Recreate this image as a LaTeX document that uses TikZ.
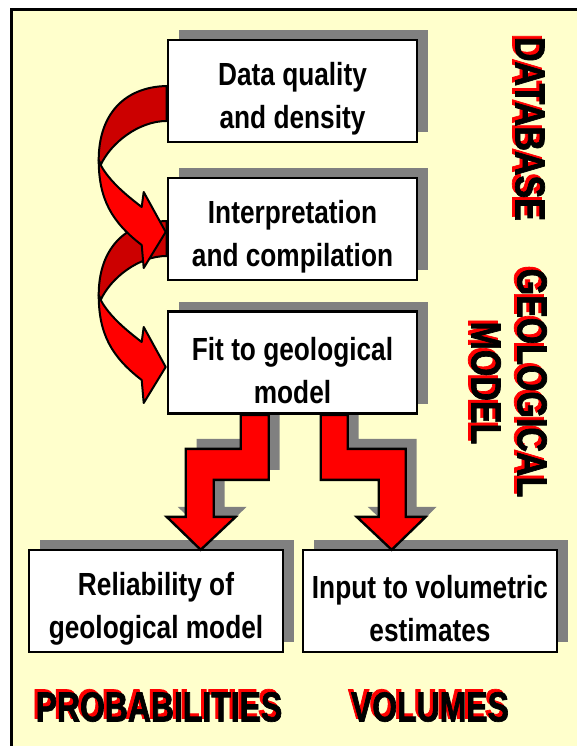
\documentclass[tikz,border=0pt]{standalone}
\usepackage{fontspec}
\setmainfont{Liberation Sans}
\newfontfamily\boxfont{Liberation Sans}[FakeStretch=0.82]
\newfontfamily\tagfont{Liberation Sans}[FakeStretch=0.76,FakeBold=1.6]
\newfontfamily\sidefont{Liberation Sans}[FakeStretch=0.81,FakeBold=1.6]
\usetikzlibrary{shadows,calc}

\definecolor{paper}{RGB}{255,255,204}
\definecolor{shade}{RGB}{128,128,128}
\definecolor{brightred}{RGB}{255,0,0}
\definecolor{deepred}{RGB}{204,0,0}

\pgfdeclarelayer{bg}
\pgfdeclarelayer{back}
\pgfdeclarelayer{front}
\pgfsetlayers{bg,back,main,front}

\tikzset{
  stage/.style={draw=black, line width=2.6pt, fill=white, minimum height=102pt,
    inner sep=0pt,
    drop shadow={shadow xshift=11pt, shadow yshift=10pt, fill=shade, opacity=1}},
  wide/.style={stage, minimum width=249pt},
  narrow/.style={stage, minimum width=254pt},
  caption/.style={label={[align=center, inner sep=0pt, yshift=-8pt,
    font=\boxfont\bfseries\fontsize{32}{43}\selectfont]center:#1}},
  tagred/.style={text=brightred, inner sep=0pt, align=center,
    font=\tagfont\bfseries\fontsize{42}{46}\selectfont},
  tagblack/.style={tagred, text=black},
  sidered/.style={text=brightred, inner sep=0pt, align=center, rotate=-90,
    font=\sidefont\bfseries\fontsize{42}{46}\selectfont},
  sideblack/.style={sidered, text=black},
  ribbon/.style={draw=black, line width=2pt, line join=round},
  zigzag/.style={draw=black, line width=2.4pt, fill=brightred, line join=miter},
  zigshade/.style={fill=shade},
  % curved link between two stacked stages, drawn from the upper stage's west anchor
  backpart/.pic={
    \path[ribbon, fill=deepred] (0,-8) .. controls (-43,-7) and (-68,21) .. (-68,66)
      -- (-66,71) .. controls (-56,49) and (-28,27) .. (0,27) -- cycle;
    \path[ribbon, fill=brightred] (-68,66) .. controls (-68,105) and (-55,128) .. (-25,151)
      -- (-23,174) -- (-1,138) -- (-23,98) -- (-25,113)
      .. controls (-38,103) and (-57,88) .. (-66,71) -- cycle;
  },
}

\begin{document}
\begin{tikzpicture}[x=1pt,y=-1pt]
  \useasboundingbox (0,0) rectangle (576,746);
  \clip (0,0) rectangle (576,746);

  \begin{pgfonlayer}{bg}
    \fill[white] (0,0) rectangle (576,746);
    \draw[line width=3pt, fill=paper] (11.5,9.5) rectangle (620,780);
  \end{pgfonlayer}

  % process stages
  \node[wide, caption={Data quality\\and density}] (dq) at (292.5,91) {};
  \node[wide, caption={Interpretation\\and compilation}] (ic) at (292.5,229) {};
  \node[wide, caption={Fit to geological\\model}] (fit) at (292.5,362.5) {};
  \node[narrow, caption={Reliability of\\geological model}] (rel) at (156,601) {};
  \node[narrow, caption={Input to volumetric\\estimates}] (vol) at (430,601) {};

  % stepped arrows from the model fit to the two outputs
  \begin{scope}[shift={(fit.south west)}]
    \begin{pgfonlayer}{back}
      \begin{scope}[shift={(11,-10)}]
        \fill[zigshade] (74,0) -- (102,0) -- (102,65) -- (47,65) -- (47,102) -- (69,102)
          -- (34,135) -- (0,102) -- (19,102) -- (19,34) -- (74,34) -- cycle;
        \fill[zigshade] (154,0) -- (181,0) -- (181,34) -- (239,34) -- (239,102) -- (259,102)
          -- (225,135) -- (190,102) -- (212,102) -- (212,65) -- (154,65) -- cycle;
      \end{scope}
    \end{pgfonlayer}
    \begin{pgfonlayer}{front}
      \path[zigzag] (74,0) -- (102,0) -- (102,65) -- (47,65) -- (47,102) -- (69,102)
        -- (34,135) -- (0,102) -- (19,102) -- (19,34) -- (74,34) -- cycle;
      \path[zigzag] (154,0) -- (181,0) -- (181,34) -- (239,34) -- (239,102) -- (259,102)
        -- (225,135) -- (190,102) -- (212,102) -- (212,65) -- (154,65) -- cycle;
    \end{pgfonlayer}
  \end{scope}

  % curved arrows down the left side
  \begin{pgfonlayer}{front}
    \pic at (ic.west) {backpart};
    \pic at ($(dq.west)+(0,3)$) {backpart};
  \end{pgfonlayer}

  % side and bottom headings, red copy set slightly up and left
  \node[sidered] (dbR) at (527,126) {DATABASE};
  \node[sideblack] (db) at (530,129) {DATABASE};
  \node[sidered] (gmR) at (506,380) {GEOLOGICAL\\MODEL};
  \node[sideblack] (gm) at (509,383) {GEOLOGICAL\\MODEL};
  \node[tagred] (prR) at (156,704) {PROBABILITIES};
  \node[tagblack] (pr) at (159,707) {PROBABILITIES};
  \node[tagred] (voR) at (427,704) {VOLUMES};
  \node[tagblack] (vo) at (430,707) {VOLUMES};
\end{tikzpicture}
\end{document}
